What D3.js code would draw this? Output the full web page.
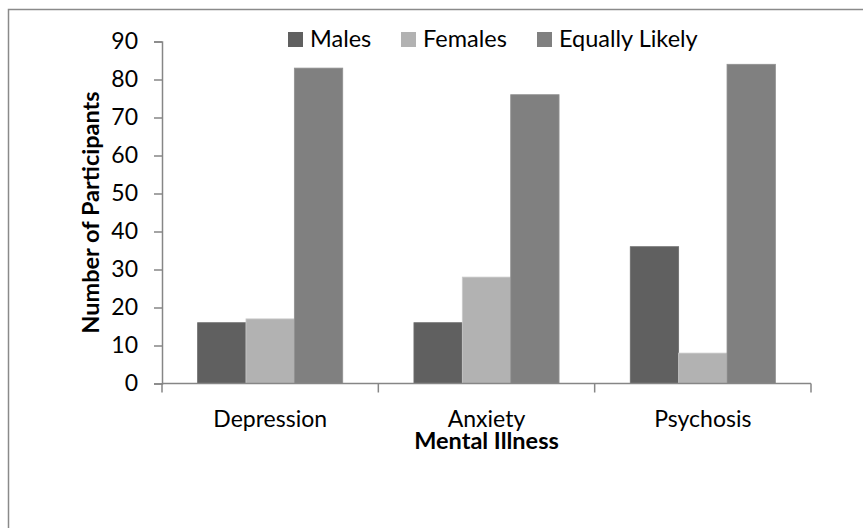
<!DOCTYPE html>
<html><head><meta charset="utf-8">
<script src="https://cdn.jsdelivr.net/npm/d3@7"></script>
<style>
html,body{margin:0;padding:0;background:#fff;}
svg{display:block;font-family:Lato,"Open Sans",sans-serif;}
</style></head>
<body>
<svg id="c" width="863" height="528"></svg>
<script>
const categories = ["Depression", "Anxiety", "Psychosis"];
const seriesNames = ["Males", "Females", "Equally Likely"];
const males = [16, 16, 36];
const females = [17, 28, 8];
const equallyLikely = [83, 76, 84];
const yTicks = [0, 10, 20, 30, 40, 50, 60, 70, 80, 90];
const colors = ["#606060", "#b2b2b2", "#808080"];

const seriesValues = [males, females, equallyLikely];
const svg = d3.select("#c");

// outer border
svg.append("rect").attr("x", 8.5).attr("y", 9.5).attr("width", 900).attr("height", 600)
  .attr("fill", "none").attr("stroke", "#8a8a8a").attr("stroke-width", 1.5);

const pLeft = 162, pRight = 811, pTop = 41.5, pBottom = 383.5;
const x = d3.scaleBand().domain(categories).range([pLeft, pRight]).paddingInner(0).paddingOuter(0);
const y = d3.scaleLinear().domain([0, 90]).range([pBottom, pTop]);
const inner = d3.scaleBand().domain(seriesNames).range([0, x.bandwidth()]).paddingInner(0).paddingOuter(0.736);

// bars
categories.forEach((cat, ci) => {
  seriesNames.forEach((s, si) => {
    const v = seriesValues[si][ci];
    svg.append("rect")
      .attr("x", x(cat) + inner(s))
      .attr("y", y(v))
      .attr("width", inner.bandwidth())
      .attr("height", y(0) - y(v))
      .attr("fill", colors[si])
      .attr("stroke", d3.color(colors[si]).brighter(0.35))
      .attr("stroke-width", 0.8);
  });
});

const axisColor = "#868686";
// y axis
const yAxis = svg.append("g").attr("transform", `translate(${pLeft},0)`)
  .call(d3.axisLeft(y).tickValues(yTicks).tickSize(8).tickPadding(16).tickFormat(d3.format("d")));
yAxis.select(".domain").attr("stroke", axisColor).attr("stroke-width", 1.5);
yAxis.selectAll(".tick line").attr("stroke", axisColor).attr("stroke-width", 1.5);
yAxis.selectAll("text").attr("font-size", 23).attr("fill", "#000").attr("font-family", "Lato");

// x axis
const xAxis = svg.append("g").attr("transform", `translate(0,${pBottom})`)
  .call(d3.axisBottom(x).tickSize(0).tickPadding(27));
xAxis.select(".domain").attr("stroke", axisColor).attr("stroke-width", 1.5).attr("d", `M${pLeft},0H${pRight}`);
xAxis.selectAll("text").attr("font-size", 23).attr("fill", "#000").attr("font-family", "Lato");
// category boundary ticks
const bounds = categories.map(c => x(c)).concat([pRight]);
svg.append("g").selectAll("line").data(bounds).join("line")
  .attr("x1", d => d).attr("x2", d => d).attr("y1", pBottom).attr("y2", pBottom + 9)
  .attr("stroke", axisColor).attr("stroke-width", 1.5);

// axis titles
svg.append("text").attr("x", (pLeft + pRight) / 2).attr("y", 449)
  .attr("text-anchor", "middle").attr("font-size", 23.5).attr("font-weight", "bold")
  .text("Mental Illness");
svg.append("text").attr("transform", `translate(99,${(pTop + pBottom) / 2}) rotate(-90)`)
  .attr("text-anchor", "middle").attr("font-size", 23.5).attr("font-weight", "bold")
  .text("Number of Participants");

// legend
const legendX = [288, 401, 537];
const lg = svg.append("g");
seriesNames.forEach((s, i) => {
  lg.append("rect").attr("x", legendX[i]).attr("y", 32).attr("width", 15).attr("height", 15).attr("fill", colors[i]);
  lg.append("text").attr("x", legendX[i] + 22).attr("y", 47).attr("font-size", 23.5).text(s);
});
</script>
</body></html>
